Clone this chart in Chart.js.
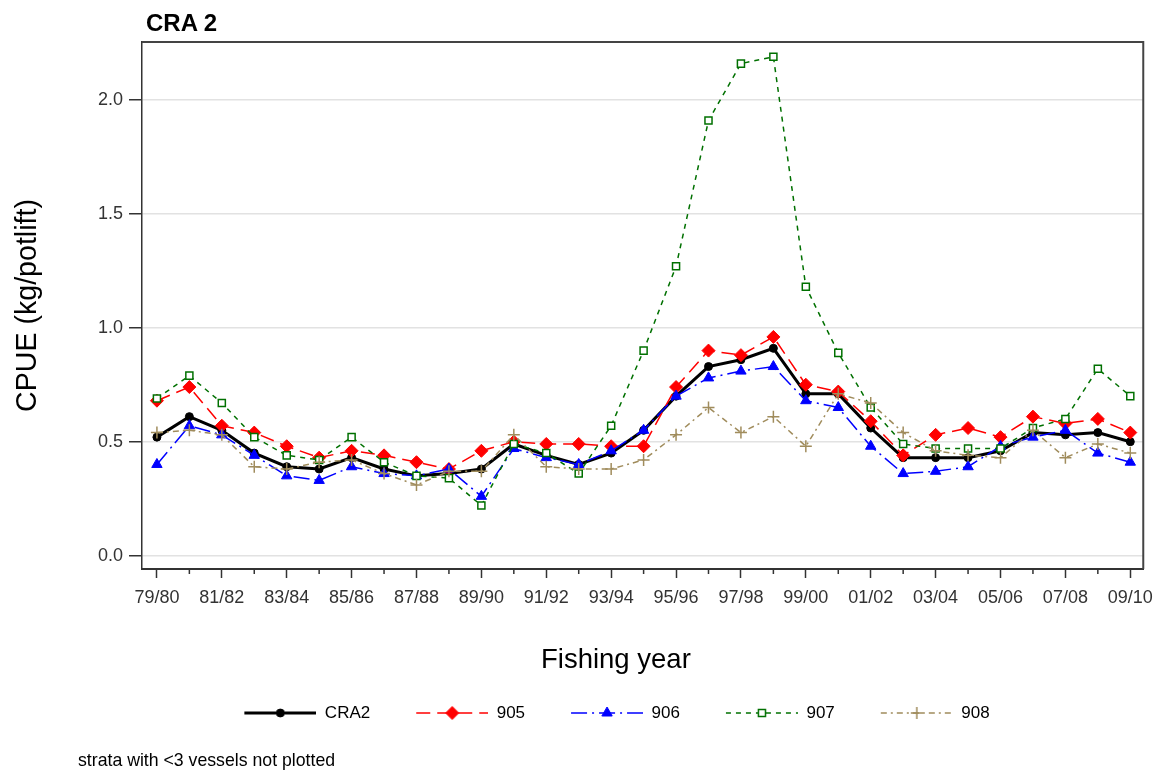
<!DOCTYPE html>
<html>
<head>
<meta charset="utf-8">
<title>CRA 2 CPUE</title>
<script src="https://cdn.jsdelivr.net/npm/chart.js@4.4.1/dist/chart.umd.min.js"></script>
<style>
  html, body { margin: 0; padding: 0; background: #fff; }
  #wrap { position: relative; width: 1162px; height: 771px; }
  #chart { position: absolute; left: 0; top: 0; }
  .txt { position: absolute; font-family: 'Liberation Sans', Arial, sans-serif; color: #000; white-space: nowrap; }
  #title { left: 146px; top: 11px; font-size: 24px; font-weight: bold; line-height: 24px; }
  #xtitle { left: 541px; top: 645px; font-size: 27.5px; line-height: 28px; }
  #note { left: 78px; top: 750px; font-size: 17.7px; line-height: 20px; }
</style>
</head>
<body>
<div id="wrap">
  <canvas id="chart" width="1162" height="771"></canvas>
  <div class="txt" id="title">CRA 2</div>
  <div class="txt" id="xtitle">Fishing year</div>
  <div class="txt" id="note">strata with &lt;3 vessels not plotted</div>
</div>
<script>
// fishing years (x categories) and y tick values
const years = ['79/80','80/81','81/82','82/83','83/84','84/85','85/86','86/87','87/88','88/89',
  '89/90','90/91','91/92','92/93','93/94','94/95','95/96','96/97','97/98','98/99',
  '99/00','00/01','01/02','02/03','03/04','04/05','05/06','06/07','07/08','08/09','09/10'];
const yTicks = [0, 0.5, 1.0, 1.5, 2.0];

// CPUE (kg/potlift)
const cra2 = [0.52, 0.61, 0.55, 0.45, 0.39, 0.38, 0.43, 0.38, 0.35, 0.36,
  0.38, 0.49, 0.44, 0.40, 0.45, 0.55, 0.70, 0.83, 0.86, 0.91,
  0.71, 0.71, 0.56, 0.43, 0.43, 0.43, 0.46, 0.54, 0.53, 0.54, 0.50];
const s905 = [0.68, 0.74, 0.57, 0.54, 0.48, 0.43, 0.46, 0.44, 0.41, 0.38,
  0.46, 0.50, 0.49, 0.49, 0.48, 0.48, 0.74, 0.90, 0.88, 0.96,
  0.75, 0.72, 0.59, 0.44, 0.53, 0.56, 0.52, 0.61, 0.58, 0.60, 0.54];
const s906 = [0.40, 0.57, 0.53, 0.44, 0.35, 0.33, 0.39, 0.36, 0.35, 0.38,
  0.26, 0.47, 0.43, 0.40, 0.46, 0.55, 0.70, 0.78, 0.81, 0.83,
  0.68, 0.65, 0.48, 0.36, 0.37, 0.39, 0.48, 0.52, 0.55, 0.45, 0.41];
const s907 = [0.69, 0.79, 0.67, 0.52, 0.44, 0.42, 0.52, 0.41, 0.35, 0.34,
  0.22, 0.49, 0.45, 0.36, 0.57, 0.90, 1.27, 1.91, 2.16, 2.19,
  1.18, 0.89, 0.65, 0.49, 0.47, 0.47, 0.47, 0.56, 0.60, 0.82, 0.70];
const s908 = [0.54, 0.55, 0.53, 0.39, 0.38, 0.41, 0.42, 0.36, 0.31, 0.37,
  0.37, 0.53, 0.39, 0.38, 0.38, 0.42, 0.53, 0.65, 0.54, 0.61,
  0.48, 0.71, 0.67, 0.54, 0.46, 0.44, 0.43, 0.55, 0.43, 0.49, 0.45];

const FONT = "'Liberation Sans', Arial, sans-serif";
const INK = '#333333';

const series = [
  { label: 'CRA2', data: cra2, color: '#000000', width: 3,   dash: [],           style: 'circle',   radius: 4,   fill: true,  mark: 1 },
  { label: '905',  data: s905, color: '#ff0000', width: 1.5, dash: [14, 7],      style: 'rectRot',  radius: 6.5, fill: true,  mark: 1 },
  { label: '906',  data: s906, color: '#0000ff', width: 1.5, dash: [16, 5, 2, 5], style: 'triangle', radius: 6,   fill: true,  mark: 1 },
  { label: '907',  data: s907, color: '#007000', width: 1.5, dash: [5, 5],       style: 'rect',     radius: 5,   fill: false, mark: 1.5 },
  { label: '908',  data: s908, color: '#a08c5c', width: 1.5, dash: [6, 4, 2, 4], style: 'cross',    radius: 6,   fill: false, mark: 1.5 },
];

// legend symbol: blank lead-in, dashed line, marker in the middle
const ICON_W = 108, LEAD = 36;
function legendIcon(s) {
  const c = document.createElement('canvas');
  c.width = ICON_W; c.height = 20;
  const g = c.getContext('2d');
  g.strokeStyle = s.color;
  g.lineWidth = s.width;
  g.setLineDash(s.dash);
  g.beginPath(); g.moveTo(LEAD, 10); g.lineTo(ICON_W, 10); g.stroke();
  g.setLineDash([]);
  g.fillStyle = s.fill ? s.color : '#ffffff';
  g.lineWidth = s.mark;
  Chart.helpers.drawPoint(g, { pointStyle: s.style, radius: s.radius, rotation: 0, borderWidth: s.mark }, LEAD + (ICON_W - LEAD) / 2, 10);
  return c;
}
const icons = series.map(legendIcon);

// top/right frame and short minor ticks on odd years
const frame = {
  id: 'frame',
  afterDraw(chart) {
    const { ctx, chartArea: a, scales: { x } } = chart;
    ctx.save();
    ctx.strokeStyle = '#444';
    ctx.lineWidth = 2;
    ctx.beginPath();
    ctx.moveTo(a.left, a.top); ctx.lineTo(a.right, a.top); ctx.lineTo(a.right, a.bottom);
    ctx.stroke();
    ctx.strokeStyle = INK;
    ctx.lineWidth = 1.5;
    ctx.beginPath();
    years.forEach((_, k) => {
      if (k % 2 === 1) {
        const px = x.getPixelForValue(k);
        ctx.moveTo(px, a.bottom); ctx.lineTo(px, a.bottom + 5);
      }
    });
    ctx.stroke();
    ctx.restore();
  }
};

new Chart(document.getElementById('chart'), {
  type: 'line',
  data: {
    datasets: series.map((s, i) => ({
      label: s.label,
      data: s.data.map((v, k) => ({ x: k, y: v })),
      borderColor: s.color,
      borderWidth: s.width,
      borderDash: s.dash,
      pointStyle: s.style,
      pointRadius: s.radius,
      pointBackgroundColor: s.fill ? s.color : '#ffffff',
      pointBorderColor: s.color,
      pointBorderWidth: s.mark,
      tension: 0,
      order: series.length - i,
    })),
  },
  options: {
    responsive: false,
    animation: false,
    events: [],
    layout: { padding: { left: 51, top: 42, right: 15, bottom: 39.5 } },
    scales: {
      x: {
        type: 'linear',
        min: -0.46, max: 30.4,
        afterBuildTicks: sc => { sc.ticks = years.map((_, k) => ({ value: k })); },
        afterFit: sc => { sc.height = 125.5; },
        ticks: {
          autoSkip: false, maxRotation: 0, minRotation: 0, padding: 9,
          color: INK, font: { family: FONT, size: 18 },
          callback: v => (v % 2 === 0 ? years[v] : ''),
        },
        grid: {
          drawOnChartArea: false, tickLength: 9, tickWidth: 1.5,
          tickColor: c => (c.index % 2 === 0 ? INK : 'rgba(0,0,0,0)'),
        },
        border: { color: INK, width: 2 },
      },
      y: {
        min: -0.059, max: 2.255,
        afterBuildTicks: sc => { sc.ticks = yTicks.map(v => ({ value: v })); },
        afterFit: sc => { sc.width = 91; },
        ticks: {
          padding: 6, color: INK, font: { family: FONT, size: 18 },
          callback: v => v.toFixed(1),
        },
        grid: { color: '#e2e2e2', lineWidth: 1.5, tickColor: INK, tickLength: 13, tickWidth: 1.5 },
        border: { color: INK, width: 1.5 },
        title: {
          display: true, text: 'CPUE (kg/potlift)', color: '#000',
          font: { family: FONT, size: 28.6 }, padding: { top: -39.7, bottom: 0 },
        },
      },
    },
    plugins: {
      tooltip: { enabled: false },
      legend: {
        position: 'bottom',
        labels: {
          usePointStyle: true, pointStyleWidth: ICON_W, padding: 10,
          color: '#000', font: { family: FONT, size: 17 },
          generateLabels: () => series.map((s, i) => ({
            text: s.label, pointStyle: icons[i], datasetIndex: i, hidden: false,
            fontColor: '#000', lineWidth: 0,
            fillStyle: 'rgba(0,0,0,0)', strokeStyle: 'rgba(0,0,0,0)',
          })),
        },
      },
    },
  },
  plugins: [frame],
});
</script>
</body>
</html>
